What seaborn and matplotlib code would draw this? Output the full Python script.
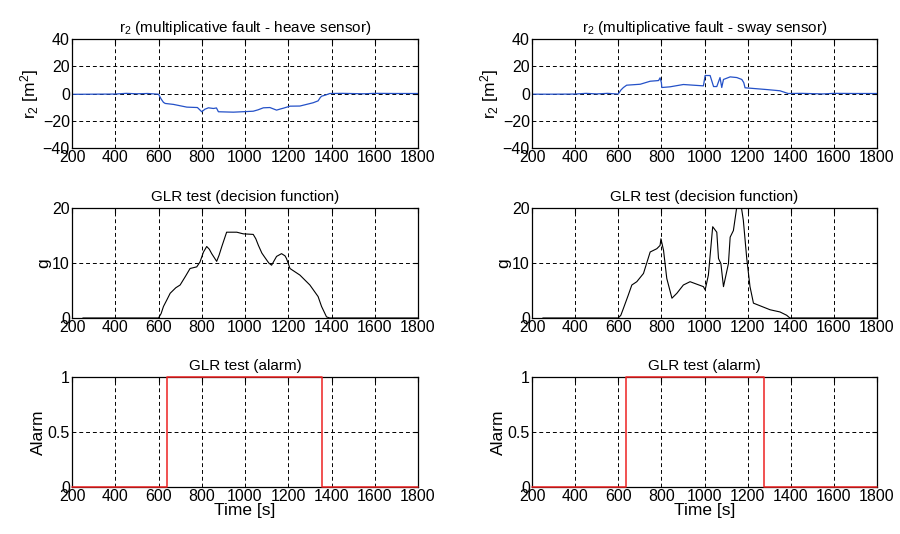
import numpy as np
import pandas as pd
import matplotlib
matplotlib.use("Agg")
import matplotlib.pyplot as plt
import seaborn as sns

# ---------------- data ----------------
# r2 heave sensor (multiplicative fault)
heave_t = [200, 300, 400, 450, 500, 550, 600, 612, 623, 631, 669, 731, 780, 800, 815, 831,
           854, 868, 877, 946, 1000, 1038, 1060, 1085, 1115, 1146, 1165, 1177, 1208, 1254,
           1315, 1338, 1348, 1354, 1375, 1392, 1450, 1550, 1600, 1700, 1800]
heave_r = [-0.6, -0.5, -0.4, 0.1, -0.2, 0.0, -0.5, -4.0, -6.5, -7.3, -8.0, -10.0, -10.3,
           -13.4, -11.5, -10.5, -11.0, -10.6, -13.4, -13.7, -13.3, -13.0, -12.0, -10.5,
           -10.3, -12.2, -11.3, -10.8, -9.3, -9.2, -6.8, -5.4, -3.0, -2.0, -1.0, 0.0,
           0.1, -0.2, 0.1, 0.0, 0.0]

# r2 sway sensor (multiplicative fault)
sway_t = [200, 300, 400, 450, 500, 550, 600, 612, 624, 639, 702, 748, 787, 794, 800, 802,
          840, 902, 995, 1003, 1026, 1042, 1057, 1072, 1080, 1088, 1119, 1150, 1173, 1182,
          1188, 1288, 1350, 1388, 1450, 1550, 1600, 1700, 1800]
sway_r = [-0.5, -0.5, -0.4, 0.1, -0.3, 0.1, -0.4, 2.5, 4.4, 6.1, 6.8, 9.0, 9.5, 11.5,
          8.0, 4.4, 4.9, 6.6, 5.6, 13.2, 13.2, 5.1, 5.1, 11.7, 4.4, 10.3, 12.2, 11.7,
          10.3, 8.0, 4.2, 2.9, 2.0, 0.0, 0.1, -0.3, 0.1, 0.0, 0.0]

# GLR decision function (heave)
g_heave_t = [250, 400, 500, 600, 612, 623, 640, 654, 680, 700, 725, 746, 777, 792, 808,
             823, 835, 846, 869, 880, 892, 915, 962, 992, 1038, 1050, 1062, 1078, 1092,
             1110, 1123, 1146, 1169, 1185, 1192, 1208, 1254, 1300, 1338, 1354, 1377,
             1392, 1500, 1600, 1800]
g_heave = [0, 0, 0, 0, 0.8, 2.1, 3.4, 4.5, 5.5, 6.0, 7.6, 9.0, 9.3, 10.2, 12.0, 13.0,
           12.5, 11.7, 10.3, 11.4, 12.9, 15.6, 15.6, 15.3, 15.2, 14.4, 13.2, 11.8, 11.0,
           10.0, 9.6, 11.2, 11.7, 11.3, 10.8, 9.0, 7.8, 6.0, 3.9, 2.1, 0.2, 0, 0, 0, 0]

# GLR decision function (sway)
g_sway_t = [250, 400, 500, 600, 612, 624, 645, 663, 686, 717, 748, 779, 794, 798, 810,
            825, 849, 872, 902, 933, 995, 1003, 1018, 1038, 1057, 1065, 1076, 1088, 1111,
            1119, 1134, 1160, 1180, 1196, 1211, 1227, 1304, 1350, 1381, 1396, 1500, 1600,
            1800]
g_sway = [0, 0, 0, 0, 0.5, 1.75, 4.0, 6.0, 6.6, 8.1, 12.0, 12.6, 13.2, 14.4, 12.3, 7.2,
          3.6, 4.5, 6.0, 6.6, 5.7, 5.1, 7.8, 16.6, 15.6, 10.8, 9.9, 5.7, 9.9, 14.7, 15.9,
          23.0, 17.8, 10.8, 5.7, 2.7, 1.5, 1.1, 0.5, 0, 0, 0, 0]

# Alarm signals (step)
alarm_heave_t = [200, 638, 638, 1355, 1355, 1800]
alarm_heave = [0, 0, 1, 1, 0, 0]
alarm_sway_t = [200, 635, 635, 1276, 1276, 1800]
alarm_sway = [0, 0, 1, 1, 0, 0]

xticks = [200, 400, 600, 800, 1000, 1200, 1400, 1600, 1800]
r_ticks = [-40, -20, 0, 20, 40]
g_ticks = [0, 10, 20]
a_ticks = [0, 0.5, 1]
a_ticklabels = ["0", "0.5", "1"]

titles_top = ["r$_2$ (multiplicative fault - heave sensor)",
              "r$_2$ (multiplicative fault - sway sensor)"]

# ---------------- style ----------------
sns.set_style("white")
plt.rcParams["font.family"] = ["Liberation Sans", "DejaVu Sans"]
plt.rcParams["mathtext.fontset"] = "custom"
plt.rcParams["mathtext.rm"] = "Liberation Sans"
plt.rcParams["mathtext.it"] = "Liberation Sans"
plt.rcParams["mathtext.default"] = "regular"
plt.rcParams["text.color"] = "black"
plt.rcParams["axes.labelcolor"] = "black"
plt.rcParams["axes.titlecolor"] = "black"

W, H = 900, 534
fig = plt.figure(figsize=(W / 100, H / 100), dpi=100)
fig.patch.set_facecolor("white")

cols = [(72, 418), (532, 877)]
rows = [(39, 148), (208, 318), (377, 487)]


def make_ax(col, row):
    x0, x1 = cols[col]
    y0, y1 = rows[row]
    return fig.add_axes([x0 / W, 1 - y1 / H, (x1 - x0) / W, (y1 - y0) / H])


def style(ax, yticks, ylim, title, ylabel, yticklabels=None, xlabel=None):
    ax.set_xlim(200, 1800)
    ax.set_ylim(*ylim)
    ax.set_xticks(xticks)
    ax.set_yticks(yticks)
    if yticklabels is not None:
        ax.set_yticklabels(yticklabels)
    ax.grid(True, color="black", linestyle=(0, (4, 3)), linewidth=0.7)
    ax.set_axisbelow(True)
    for s in ax.spines.values():
        s.set_visible(True)
        s.set_color("black")
        s.set_linewidth(0.9)
    ax.tick_params(axis="both", direction="in", length=3.5, width=0.8,
                   labelsize=11.5, top=True, right=True, pad=1.5,
                   colors="black", labelcolor="black")
    ax.set_title(title, fontsize=11, pad=5, color="black")
    ax.set_ylabel(ylabel, fontsize=12.5, labelpad=1, color="black")
    if xlabel:
        ax.set_xlabel(xlabel, fontsize=12.5, labelpad=-1, color="black")
    else:
        ax.set_xlabel("")


blue = "#2451c8"
series_top = [(heave_t, heave_r), (sway_t, sway_r)]
series_mid = [(g_heave_t, g_heave), (g_sway_t, g_sway)]
series_bot = [(alarm_heave_t, alarm_heave), (alarm_sway_t, alarm_sway)]

for c in range(2):
    ax = make_ax(c, 0)
    df = pd.DataFrame({"t": series_top[c][0], "v": series_top[c][1]})
    sns.lineplot(data=df, x="t", y="v", ax=ax, color=blue, linewidth=0.9,
                 sort=False, estimator=None)
    style(ax, r_ticks, (-40, 40), titles_top[c], "r$_2$ [m$^2$]")

    ax = make_ax(c, 1)
    df = pd.DataFrame({"t": series_mid[c][0], "v": series_mid[c][1]})
    sns.lineplot(data=df, x="t", y="v", ax=ax, color="black", linewidth=0.8,
                 sort=False, estimator=None)
    style(ax, g_ticks, (0, 20), "GLR test (decision function)", "g")

    ax = make_ax(c, 2)
    df = pd.DataFrame({"t": series_bot[c][0], "v": series_bot[c][1]})
    sns.lineplot(data=df, x="t", y="v", ax=ax, color="#ee2222", linewidth=1.1,
                 sort=False, estimator=None, clip_on=False, zorder=5)
    style(ax, a_ticks, (0, 1), "GLR test (alarm)", "Alarm",
          yticklabels=a_ticklabels, xlabel="Time [s]")

fig.savefig("out.png", dpi=100, facecolor="white")
